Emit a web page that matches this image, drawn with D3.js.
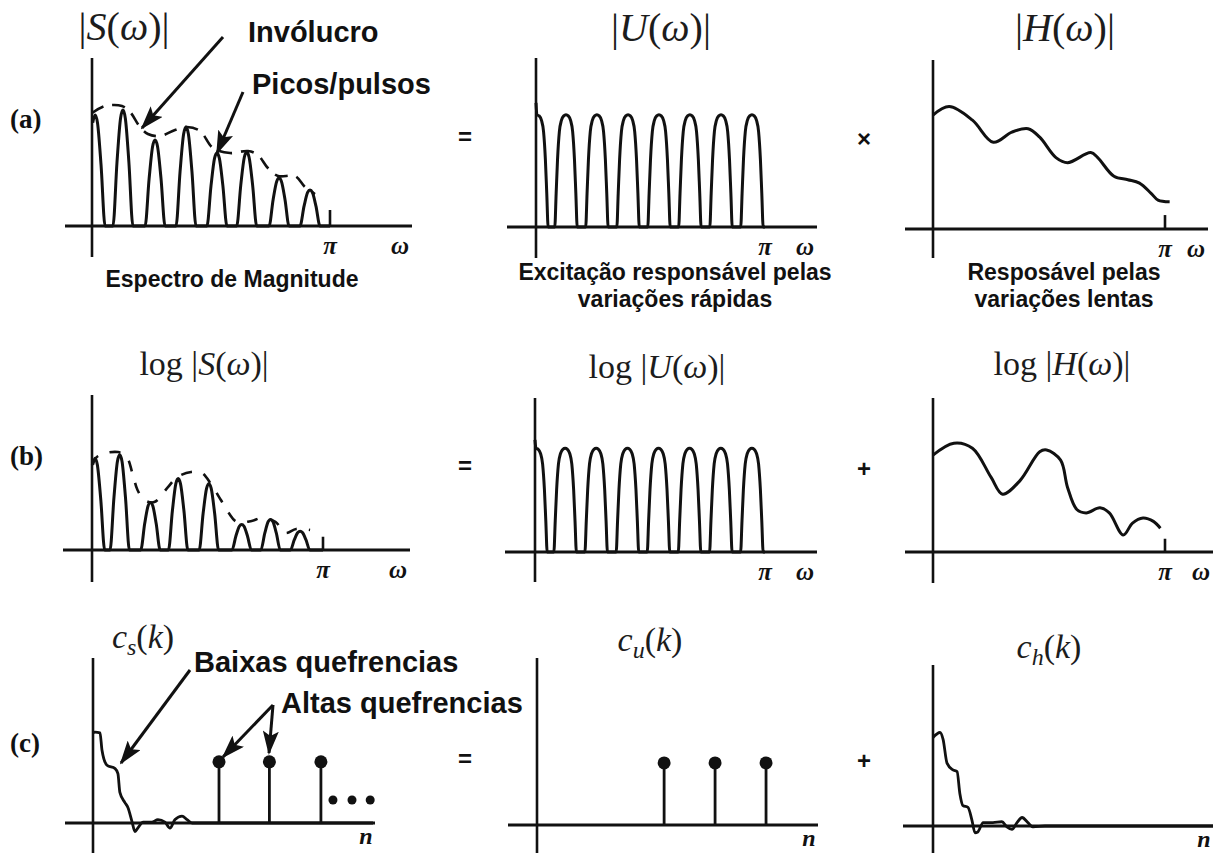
<!DOCTYPE html>
<html>
<head>
<meta charset="utf-8">
<script src="https://cdn.jsdelivr.net/npm/d3@7"></script>
<style>
body { margin: 0; background: #fff; }
svg { display: block; }
.sans { font-family: "Liberation Sans", Arial, sans-serif; font-weight: bold; fill: #111; }
.math { font-family: "Liberation Serif", "Times New Roman", serif; fill: #1c1c1c; }
.lab { font-family: "Liberation Serif", "Times New Roman", serif; font-weight: bold; font-style: italic; fill: #111; }
</style>
</head>
<body>
<script>

/* values: x in units of w/pi (or n), y in 0..1 */

// |S(w)| and log|S(w)| : harmonic peaks
var sPeaksA = [0.013, 0.13, 0.265, 0.395, 0.525, 0.65, 0.786, 0.916];
var sHeightsA = [0.653, 0.682, 0.506, 0.582, 0.429, 0.435, 0.282, 0.212];
var sPeaksB = [0.013, 0.12, 0.253, 0.373, 0.506, 0.648, 0.773, 0.901];
var sHeightsB = [0.54, 0.56, 0.28, 0.42, 0.39, 0.15, 0.18, 0.11];

// dashed envelope over the peaks
var sEnvelopeA = [[0, 0.665], [0.055, 0.706], [0.126, 0.706], [0.16, 0.671], [0.202, 0.582],
	[0.235, 0.541], [0.286, 0.529], [0.349, 0.565], [0.399, 0.582], [0.454, 0.559], [0.508, 0.459],
	[0.58, 0.429], [0.655, 0.441], [0.697, 0.418], [0.739, 0.341], [0.782, 0.294], [0.853, 0.294],
	[0.895, 0.229], [0.937, 0.188]];
var sEnvelopeB = [[0, 0.5], [0.026, 0.553], [0.112, 0.576], [0.15, 0.547], [0.176, 0.447],
	[0.197, 0.353], [0.227, 0.294], [0.27, 0.282], [0.326, 0.365], [0.369, 0.429], [0.429, 0.459],
	[0.476, 0.453], [0.515, 0.388], [0.558, 0.294], [0.592, 0.218], [0.627, 0.165], [0.691, 0.171],
	[0.734, 0.188], [0.794, 0.165], [0.837, 0.1], [0.884, 0.124], [0.944, 0.118]];

// |U(w)| and log|U(w)| : flat pulse train
var uPeaks = [0.004, 0.131, 0.266, 0.402, 0.537, 0.672, 0.808, 0.943];
var uHeightsA = [0.66, 0.66, 0.66, 0.66, 0.66, 0.66, 0.66, 0.66];
var uHeightsB = [0.61, 0.61, 0.61, 0.61, 0.61, 0.61, 0.61, 0.61];
var uSpike = [0.73, 0.66];

// pulse outlines (offset in w/pi, fraction of the peak)
var sPulseShape = [[-0.042, 0], [-0.025, 0.55], [-0.01, 0.93], [0, 1], [0.01, 0.93], [0.025, 0.55], [0.042, 0]];
var uPulseShape = [[-0.049, 0], [-0.043, 0.3], [-0.037, 0.6], [-0.029, 0.85], [-0.02, 0.95], [-0.01, 0.99],
	[0, 1], [0.01, 0.99], [0.02, 0.95], [0.029, 0.85], [0.037, 0.6], [0.043, 0.3], [0.049, 0]];

// |H(w)| and log|H(w)| : smooth vocal tract response
var hCurveA = [[0, 0.67], [0.07, 0.72], [0.17, 0.64], [0.26, 0.51], [0.34, 0.57], [0.41, 0.59],
	[0.46, 0.54], [0.53, 0.42], [0.58, 0.39], [0.68, 0.45], [0.71, 0.42], [0.78, 0.31], [0.84, 0.29],
	[0.89, 0.27], [0.94, 0.21], [0.97, 0.17], [1.02, 0.16]];
var hCurveB = [[0, 0.57], [0.09, 0.64], [0.17, 0.61], [0.25, 0.44], [0.30, 0.34], [0.375, 0.42],
	[0.46, 0.59], [0.49, 0.60], [0.55, 0.54], [0.58, 0.38], [0.62, 0.25], [0.66, 0.23], [0.72, 0.26],
	[0.76, 0.23], [0.82, 0.10], [0.86, 0.17], [0.905, 0.20], [0.95, 0.18], [0.98, 0.14]];

// small mark at pi
var piTicks = [[0.094, 0.078], [0, 0], [0.082, 0.078]];

// cepstra, x in n (0..100)
var csCurve = [[0, 0.53], [0.7, 0.535], [2.5, 0.53], [3.2, 0.43], [5, 0.34], [7.9, 0.32], [8.9, 0.29],
	[9.6, 0.18], [11.4, 0.12], [12.5, 0.09], [13.9, 0.01], [15, -0.05], [16, -0.03], [17.9, 0.005],
	[21, 0.005], [23.2, 0.02], [25.7, 0.005], [27.5, -0.03], [29.3, 0.02], [31.8, 0.04], [33.6, 0.02],
	[35.4, 0], [38, 0], [60, 0], [100, 0]];
var chCurve = [[0, 0.52], [2.5, 0.55], [3.6, 0.51], [5, 0.37], [7.1, 0.33], [8.6, 0.32], [9.6, 0.19],
	[10.7, 0.12], [12.5, 0.11], [13.9, 0.035], [15, -0.04], [16, -0.035], [17.9, 0.02], [21.4, 0.02],
	[24.6, 0.025], [26.4, -0.005], [28.2, -0.02], [30, 0.02], [31.8, 0.05], [33.9, 0.02], [35.7, -0.005],
	[40, 0], [45, 0], [70, 0], [100, 0]];
var csStems = [45, 63, 81.4];
var cuStems = [45.4, 63.6, 81.8];
var stemHeights = [0.36, 0.365];
var moreDots = [85.7, 92.5, 99];
var moreDotsHeight = 0.135;

// texts
var rowLabels = ["(a)", "(b)", "(c)"];
var operators = [["=", "\u00d7"], ["=", "+"], ["=", "+"]];
var titles = [
	[[["|", 0], ["S", 1], ["(", 0], ["\u03c9", 1], [")|", 0]],
	 [["|", 0], ["U", 1], ["(", 0], ["\u03c9", 1], [")|", 0]],
	 [["|", 0], ["H", 1], ["(", 0], ["\u03c9", 1], [")|", 0]]],
	[[["log |", 0], ["S", 1], ["(", 0], ["\u03c9", 1], [")|", 0]],
	 [["log |", 0], ["U", 1], ["(", 0], ["\u03c9", 1], [")|", 0]],
	 [["log |", 0], ["H", 1], ["(", 0], ["\u03c9", 1], [")|", 0]]],
	[[["c", 1], ["s", 2], ["(", 3], ["k", 1], [")", 0]],
	 [["c", 1], ["u", 2], ["(", 3], ["k", 1], [")", 0]],
	 [["c", 1], ["h", 2], ["(", 3], ["k", 1], [")", 0]]]
];
var captions = [["Espectro de Magnitude"], ["Excita\u00e7\u00e3o respons\u00e1vel pelas", "varia\u00e7\u00f5es r\u00e1pidas"],
	["Respos\u00e1vel pelas", "varia\u00e7\u00f5es lentas"]];
var notes = ["Inv\u00f3lucro", "Picos/pulsos", "Baixas quefrencias", "Altas quefrencias"];
var axisNames = ["\u03c0", "\u03c9", "n"];

/* layout */
var width = 1225, height = 853;

var svg = d3.select("body").append("svg")
	.attr("width", width)
	.attr("height", height);

var defs = svg.append("defs");
defs.append("marker")
	.attr("id", "head")
	.attr("markerUnits", "userSpaceOnUse")
	.attr("markerWidth", 24).attr("markerHeight", 16)
	.attr("refX", 22).attr("refY", 8)
	.attr("orient", "auto")
	.append("path")
	.attr("d", "M0,0 L24,8 L0,16 L5,8 Z")
	.attr("fill", "#111");

// one box per panel: origin, position of pi, axis extents
var panels = [
	[{x0: 92, xPi: 330, y0: 226, top: 58, bot: 257, h0: 65, h1: 412},
	 {x0: 536, xPi: 765, y0: 227, top: 58, bot: 258, h0: 507, h1: 817},
	 {x0: 933, xPi: 1165, y0: 229, top: 60, bot: 258, h0: 905, h1: 1208}],
	[{x0: 92, xPi: 323, y0: 550, top: 395, bot: 582, h0: 63, h1: 410},
	 {x0: 535, xPi: 765, y0: 552, top: 398, bot: 582, h0: 505, h1: 817},
	 {x0: 933, xPi: 1165, y0: 552, top: 398, bot: 583, h0: 905, h1: 1213}],
	[{x0: 93, xPi: 373, y0: 823, top: 658, bot: 853, h0: 65, h1: 375},
	 {x0: 537, xPi: 817, y0: 825, top: 658, bot: 853, h0: 508, h1: 818},
	 {x0: 933, xPi: 1213, y0: 826, top: 665, bot: 853, h0: 903, h1: 1213}]
];
var titlePos = [[[124, 40, 40], [661, 41, 40], [1065, 41, 40]],
	[[204, 375, 34], [657, 378, 34], [1062, 375, 34]],
	[[143, 648, 34], [650, 651, 34], [1049, 658, 34]]];

var ink = "#111";

function scales(r, c) {
	var p = panels[r][c];
	var x = d3.scaleLinear().domain([0, r === 2 ? 100 : 1]).range([p.x0, p.xPi]);
	var y = d3.scaleLinear().domain([0, 1]).range([p.y0, p.y0 - 170]);
	var g = svg.append("g");
	g.append("line").attr("x1", p.x0).attr("x2", p.x0).attr("y1", p.top).attr("y2", p.bot)
		.attr("stroke", ink).attr("stroke-width", 2.6);
	g.append("line").attr("x1", p.h0).attr("x2", p.h1).attr("y1", p.y0).attr("y2", p.y0)
		.attr("stroke", ink).attr("stroke-width", 2.8);
	return {x: x, y: y, g: g, p: p};
}

function lineOf(s, curve) {
	return d3.line()
		.x(function(d) { return s.x(d[0]); })
		.y(function(d) { return s.y(d[1]); })
		.curve(curve);
}

function pulseTrain(peaks, heights, shape, end) {
	var pts = [];
	peaks.forEach(function(c, i) {
		shape.forEach(function(q) {
			if (c + q[0] >= 0) pts.push([c + q[0], q[1] * heights[i]]);
		});
	});
	pts.push([end, 0]);
	return pts;
}

function drawPath(s, pts, curve, sw, dash) {
	s.g.append("path")
		.datum(pts)
		.attr("d", lineOf(s, curve))
		.attr("fill", "none")
		.attr("stroke", ink)
		.attr("stroke-width", sw)
		.attr("stroke-linejoin", "round")
		.attr("stroke-dasharray", dash || null);
}

function piTick(s, h) {
	s.g.append("line")
		.attr("x1", s.x(1)).attr("x2", s.x(1))
		.attr("y1", s.y(0)).attr("y2", s.y(h))
		.attr("stroke", ink).attr("stroke-width", 2.6);
}

function axisLabels(s, r) {
	if (r < 2) {
		s.g.append("text").attr("class", "lab")
			.attr("x", s.x(1)).attr("y", s.p.y0 + 28)
			.attr("text-anchor", "middle").style("font-size", "25px")
			.text(axisNames[0]);
		s.g.append("text").attr("class", "lab")
			.attr("x", s.p.h1 - 12).attr("y", s.p.y0 + 28)
			.attr("text-anchor", "middle").style("font-size", "25px")
			.text(axisNames[1]);
	} else {
		s.g.append("text").attr("class", "lab")
			.attr("x", s.p.h1 - 9).attr("y", s.p.y0 + 21)
			.attr("text-anchor", "middle").style("font-size", "24px")
			.text(axisNames[2]);
	}
}

function stems(s, ns, h) {
	s.g.selectAll(null).data(ns).enter().append("line")
		.attr("x1", function(d) { return s.x(d); })
		.attr("x2", function(d) { return s.x(d); })
		.attr("y1", s.y(0)).attr("y2", s.y(h))
		.attr("stroke", ink).attr("stroke-width", 2.8);
	s.g.selectAll(null).data(ns).enter().append("circle")
		.attr("cx", function(d) { return s.x(d); })
		.attr("cy", s.y(h))
		.attr("r", 6.5)
		.attr("fill", ink);
}

/* row a */
var sa = scales(0, 0), ua = scales(0, 1), ha = scales(0, 2);
drawPath(sa, pulseTrain(sPeaksA, sHeightsA, sPulseShape, 1), d3.curveMonotoneX, 3);
piTick(sa, piTicks[0][0]);
drawPath(sa, sEnvelopeA, d3.curveCatmullRom, 2.6, "13,9");
drawPath(ua, [[0, uSpike[0]]].concat(pulseTrain(uPeaks, uHeightsA, uPulseShape, 1)), d3.curveMonotoneX, 3);
drawPath(ha, hCurveA, d3.curveCatmullRom, 3);
piTick(ha, piTicks[2][0]);

/* row b */
var sb = scales(1, 0), ub = scales(1, 1), hb = scales(1, 2);
drawPath(sb, pulseTrain(sPeaksB, sHeightsB, sPulseShape, 1), d3.curveMonotoneX, 3);
piTick(sb, piTicks[0][1]);
drawPath(sb, sEnvelopeB, d3.curveCatmullRom, 2.6, "11,12");
drawPath(ub, [[0, uSpike[1]]].concat(pulseTrain(uPeaks, uHeightsB, uPulseShape, 1)), d3.curveMonotoneX, 3);
drawPath(hb, hCurveB, d3.curveCatmullRom, 3);
piTick(hb, piTicks[2][1]);

/* row c */
var cs = scales(2, 0), cu = scales(2, 1), ch = scales(2, 2);
drawPath(cs, csCurve, d3.curveMonotoneX, 2.8);
stems(cs, csStems, stemHeights[0]);
cs.g.selectAll(null).data(moreDots).enter().append("circle")
	.attr("cx", function(d) { return cs.x(d); })
	.attr("cy", cs.y(moreDotsHeight))
	.attr("r", 4.5)
	.attr("fill", ink);
stems(cu, cuStems, stemHeights[1]);
drawPath(ch, chCurve, d3.curveMonotoneX, 2.8);

[[sa, ua, ha], [sb, ub, hb], [cs, cu, ch]].forEach(function(row, r) {
	row.forEach(function(s) { axisLabels(s, r); });
});

/* titles */
titles.forEach(function(row, r) {
	row.forEach(function(segs, c) {
		var tp = titlePos[r][c];
		var t = svg.append("text").attr("class", "math")
			.attr("x", tp[0]).attr("y", tp[1])
			.attr("text-anchor", "middle")
			.style("font-size", tp[2] + "px");
		segs.forEach(function(sg) {
			var ts = t.append("tspan").text(sg[0]);
			if (sg[1] === 1 || sg[1] === 2) ts.style("font-style", "italic");
			if (sg[1] === 2) ts.attr("dy", 7).style("font-size", "24px");
			if (sg[1] === 3) ts.attr("dy", -7);
		});
	});
});

/* row letters and operators */
var rowY = [128, 465, 752];
rowLabels.forEach(function(l, i) {
	svg.append("text")
		.attr("x", 10).attr("y", rowY[i])
		.style("font-family", "'Liberation Serif', serif")
		.style("font-weight", "bold").style("font-size", "27px").style("fill", ink)
		.text(l);
});
var opY = [[136, 138], [465, 468], [758, 760]];
var opX = [465, 864];
operators.forEach(function(row, r) {
	row.forEach(function(o, c) {
		svg.append("text").attr("class", "sans")
			.attr("x", opX[c]).attr("y", opY[r][c])
			.attr("text-anchor", "middle").attr("dominant-baseline", "central")
			.style("font-size", "24px")
			.text(o);
	});
});

/* captions under row a */
var capPos = [[232, 287], [675, 280], [1064, 280]];
captions.forEach(function(lines, i) {
	lines.forEach(function(l, j) {
		svg.append("text").attr("class", "sans")
			.attr("x", capPos[i][0]).attr("y", capPos[i][1] + j * 27)
			.attr("text-anchor", "middle")
			.style("font-size", "23px")
			.text(l);
	});
});

/* annotations with arrows */
var notePos = [[248, 42], [252, 94], [194, 672], [281, 713]];
notes.forEach(function(n, i) {
	svg.append("text").attr("class", "sans")
		.attr("x", notePos[i][0]).attr("y", notePos[i][1])
		.style("font-size", "29px")
		.text(n);
});
var arrows = [[223, 37, 142, 128], [243, 92, 217, 153], [190, 670, 121, 763], [273, 705, 223, 757], [273, 705, 269, 753]];
svg.selectAll(".arrow").data(arrows).enter().append("line")
	.attr("class", "arrow")
	.attr("x1", function(d) { return d[0]; }).attr("y1", function(d) { return d[1]; })
	.attr("x2", function(d) { return d[2]; }).attr("y2", function(d) { return d[3]; })
	.attr("stroke", ink).attr("stroke-width", 3)
	.attr("marker-end", "url(#head)");

</script>
</body>
</html>
